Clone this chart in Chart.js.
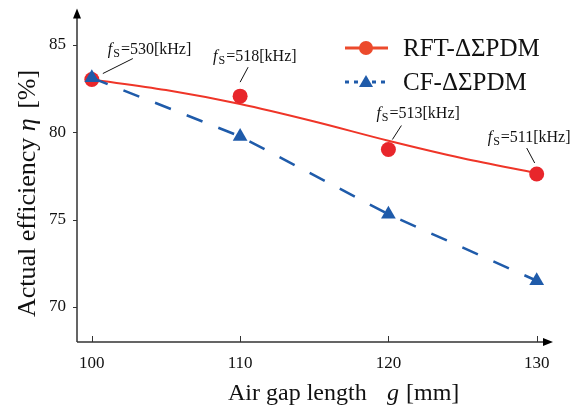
<!DOCTYPE html>
<html>
<head>
<meta charset="utf-8">
<script src="https://cdn.jsdelivr.net/npm/chart.js@4.4.1/dist/chart.umd.min.js"></script>
<style>
html,body{margin:0;padding:0;background:#fff;}
#wrap{width:581px;height:414px;position:relative;}
</style>
</head>
<body>
<div id="wrap"><canvas id="c"></canvas></div>
<script>
// ---- data ----
const gapLengths = [100, 110, 120, 130];
const rftEff = [83.0, 82.05, 79.0, 77.6];
const cfEff = [83.1, 79.75, 75.3, 71.5];
const rftFitX = [100, 105, 110, 115, 120, 125, 130];
const rftFitY = [83.0, 82.4, 81.6, 80.6, 79.5, 78.5, 77.65];
const freqLabels = ['530', '518', '513', '511'];
const xTicks = [100, 110, 120, 130];
const yTicks = [70, 75, 80, 85];
const seriesNames = ['RFT-ΔΣPDM', 'CF-ΔΣPDM'];

// ---- styles / layout ----
const RED = '#E8262B';
const RED_LINE = '#EF3528';
const BLUE = '#1F5BAA';
const FONT = "'Liberation Serif', 'Times New Roman', serif";
// annotation offsets relative to each red point: [textDx, textDy, l1dx, l1dy, l2dx, l2dy]
const annOffsets = [
  [16, -30, 11, -6, 41, -21],
  [-27, -39, 0, -14, 8, -29],
  [-12, -36, 4, -10, 13, -24],
  [-49, -36, -2, -11, -10, -26]
];

const toXY = (xs, ys) => xs.map((x, i) => ({x: x, y: ys[i]}));

const decor = {
  id: 'decor',
  afterDraw(chart) {
    const ctx = chart.ctx;
    const xs = chart.scales.x, ys = chart.scales.y;
    const ca = chart.chartArea;
    ctx.save();
    // axes
    ctx.strokeStyle = '#333';
    ctx.lineWidth = 1.5;
    ctx.beginPath();
    ctx.moveTo(ca.left, ca.bottom);
    ctx.lineTo(ca.left, ca.top + 6);
    ctx.moveTo(ca.left, ca.bottom);
    ctx.lineTo(ca.right - 6, ca.bottom);
    ctx.stroke();
    // arrowheads
    ctx.fillStyle = '#000';
    ctx.beginPath();
    ctx.moveTo(ca.left, ca.top);
    ctx.lineTo(ca.left - 4, ca.top + 10);
    ctx.lineTo(ca.left + 4, ca.top + 10);
    ctx.closePath();
    ctx.fill();
    ctx.beginPath();
    ctx.moveTo(ca.right, ca.bottom);
    ctx.lineTo(ca.right - 10, ca.bottom - 4);
    ctx.lineTo(ca.right - 10, ca.bottom + 4);
    ctx.closePath();
    ctx.fill();
    // tick marks
    ctx.strokeStyle = '#333';
    ctx.lineWidth = 1;
    ctx.beginPath();
    yTicks.forEach(v => {
      const py = Math.round(ys.getPixelForValue(v)) + 0.5;
      ctx.moveTo(ca.left - 4, py);
      ctx.lineTo(ca.left, py);
    });
    xTicks.forEach(v => {
      const px = Math.round(xs.getPixelForValue(v)) + 0.5;
      ctx.moveTo(px, ca.bottom);
      ctx.lineTo(px, ca.bottom - 6);
    });
    ctx.stroke();

    // annotations
    ctx.fillStyle = '#111';
    ctx.strokeStyle = '#111';
    ctx.lineWidth = 1;
    gapLengths.forEach((g, i) => {
      const px = xs.getPixelForValue(g);
      const py = ys.getPixelForValue(rftEff[i]);
      const o = annOffsets[i];
      ctx.beginPath();
      ctx.moveTo(px + o[2], py + o[3]);
      ctx.lineTo(px + o[4], py + o[5]);
      ctx.stroke();
      let tx = px + o[0];
      const ty = py + o[1];
      ctx.textBaseline = 'middle';
      ctx.textAlign = 'left';
      ctx.font = 'italic 16px ' + FONT;
      ctx.fillText('f', tx, ty);
      tx += ctx.measureText('f').width + 1;
      ctx.font = '12px ' + FONT;
      ctx.fillText('S', tx, ty + 4);
      tx += ctx.measureText('S').width + 1;
      ctx.font = '16px ' + FONT;
      ctx.fillText('=' + freqLabels[i] + '[kHz]', tx, ty);
    });

    // x axis title
    ctx.textBaseline = 'alphabetic';
    ctx.font = '24px ' + FONT;
    const tyX = 400;
    ctx.fillText('Air gap length', 228, tyX);
    ctx.font = 'italic 24px ' + FONT;
    ctx.fillText('g', 387, tyX);
    ctx.font = '24px ' + FONT;
    ctx.fillText('[mm]', 406, tyX);

    // y axis title (rotated)
    ctx.save();
    ctx.translate(35, 317);
    ctx.rotate(-Math.PI / 2);
    ctx.font = '26px ' + FONT;
    let ax = 0;
    ctx.fillText('Actual efficiency ', ax, 0);
    ax += ctx.measureText('Actual efficiency ').width;
    ctx.font = 'italic 26px ' + FONT;
    ctx.fillText('η', ax, 0);
    ax += ctx.measureText('η').width;
    ctx.font = '26px ' + FONT;
    ctx.fillText(' [%]', ax + 3, 0);
    ctx.restore();

    // legend
    const lx0 = 345, lx1 = 388, lxm = 366;
    const ly1 = 48, ly2 = 82;
    ctx.strokeStyle = '#EC4A2C';
    ctx.lineWidth = 3;
    ctx.beginPath();
    ctx.moveTo(lx0, ly1); ctx.lineTo(lx1, ly1);
    ctx.stroke();
    ctx.fillStyle = '#EC4A2C';
    ctx.beginPath();
    ctx.arc(lxm, ly1, 7, 0, Math.PI * 2);
    ctx.fill();
    ctx.strokeStyle = BLUE;
    ctx.lineWidth = 3;
    ctx.setLineDash([4, 5]);
    ctx.beginPath();
    ctx.moveTo(lx0, ly2); ctx.lineTo(lx1, ly2);
    ctx.stroke();
    ctx.setLineDash([]);
    ctx.fillStyle = BLUE;
    ctx.beginPath();
    ctx.moveTo(lxm, ly2 - 7);
    ctx.lineTo(lxm - 7, ly2 + 5);
    ctx.lineTo(lxm + 7, ly2 + 5);
    ctx.closePath();
    ctx.fill();
    ctx.fillStyle = '#111';
    ctx.font = '25px ' + FONT;
    ctx.textBaseline = 'middle';
    ctx.fillText(seriesNames[0], 403, ly1 + 1);
    ctx.fillText(seriesNames[1], 403, ly2 + 1);
    ctx.restore();
  }
};

new Chart(document.getElementById('c'), {
  type: 'line',
  data: {
    datasets: [
      {
        label: seriesNames[1],
        data: toXY(gapLengths, cfEff),
        borderColor: BLUE,
        backgroundColor: BLUE,
        borderWidth: 2.5,
        borderDash: [17, 17],
        pointStyle: 'triangle',
        pointRadius: 8.5,
        pointBorderWidth: 0,
        tension: 0
      },
      {
        label: seriesNames[0],
        data: toXY(gapLengths, rftEff),
        showLine: false,
        borderColor: RED,
        backgroundColor: RED,
        pointStyle: 'circle',
        pointRadius: 7.5,
        pointBorderWidth: 0
      },
      {
        label: seriesNames[0] + ' fit',
        data: toXY(rftFitX, rftFitY),
        borderColor: RED_LINE,
        borderWidth: 2,
        pointRadius: 0,
        cubicInterpolationMode: 'monotone'
      }
    ]
  },
  options: {
    responsive: true,
    maintainAspectRatio: false,
    animation: false,
    devicePixelRatio: 1,
    layout: {padding: {top: 8, right: 28, left: 0, bottom: 0}},
    plugins: {legend: {display: false}, tooltip: {enabled: false}},
    scales: {
      x: {
        type: 'linear',
        min: 99,
        max: 131.1,
        grid: {display: false, drawTicks: false},
        border: {display: false},
        ticks: {color: '#111', font: {family: FONT, size: 17}, padding: 11, maxRotation: 0},
        afterBuildTicks: s => { s.ticks = xTicks.map(v => ({value: v})); },
        afterFit: s => { s.height = 72; s.paddingLeft = 0; s.paddingRight = 0; }
      },
      y: {
        min: 68,
        max: 87.06,
        grid: {display: false, drawTicks: false},
        border: {display: false},
        ticks: {color: '#111', font: {family: FONT, size: 17}, padding: 11},
        afterBuildTicks: s => { s.ticks = yTicks.map(v => ({value: v})); },
        afterFit: s => { s.width = 77; s.paddingTop = 0; s.paddingBottom = 0; }
      }
    }
  },
  plugins: [decor]
});
</script>
</body>
</html>
